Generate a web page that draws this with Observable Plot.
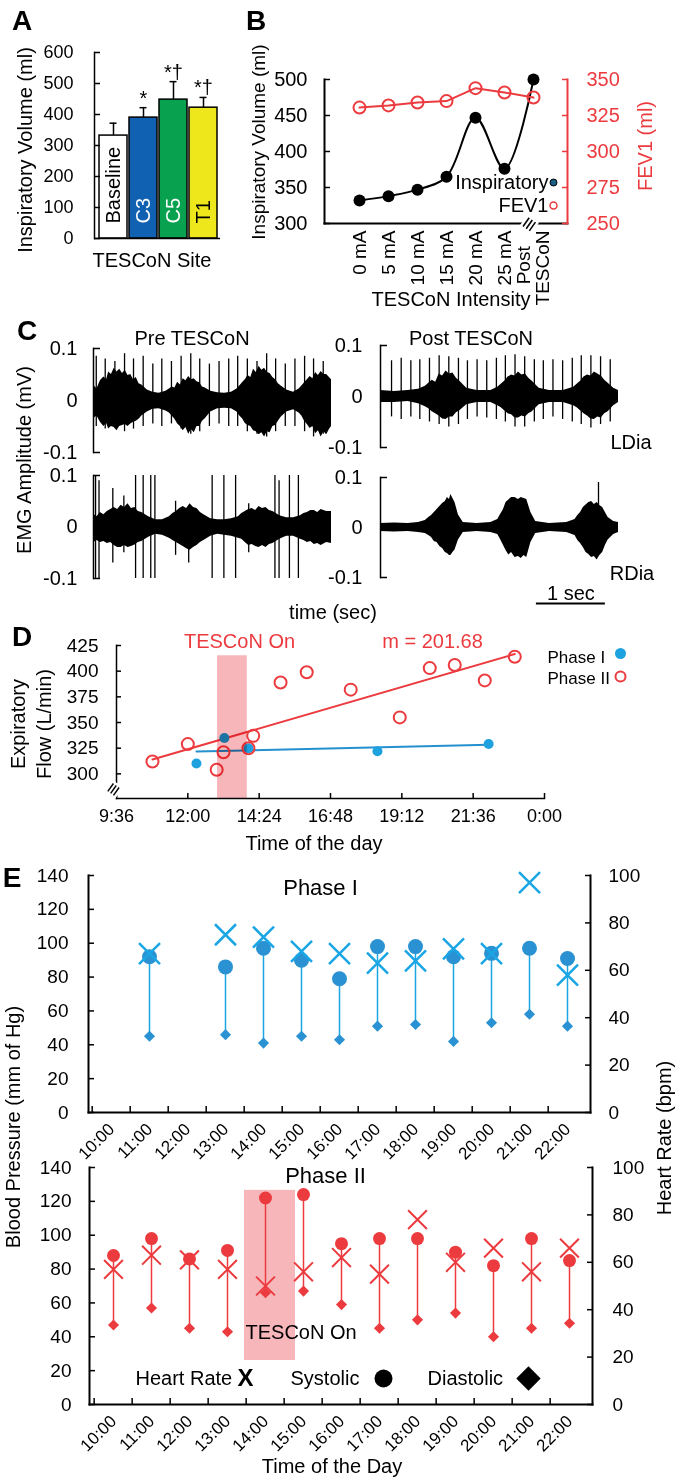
<!DOCTYPE html>
<html><head><meta charset="utf-8">
<script src="https://cdn.jsdelivr.net/npm/d3@7"></script>
<script src="https://cdn.jsdelivr.net/npm/@observablehq/plot@0.6"></script>
<style>
body{margin:0;background:#fff;}
#fig{position:relative;width:678px;height:1479px;overflow:hidden;background:#fff;font-family:"Liberation Sans",Arial,Helvetica,sans-serif;color:#000;}
.lbl{position:absolute;white-space:pre;line-height:1;text-align:center;transform-origin:50% 50%;}
.panel{position:absolute;}
</style></head><body><div id="fig"></div>
<script>
// ---------- Panel A data ----------
const siteCategories = ["Baseline", "C3", "C5", "T1"];
const siteMeans = [332, 390, 448, 422];
const siteErrors = [40, 32, 58, 33];
const siteStars = ["", "*", "*†", "*†"];
const siteFills = ["#ffffff", "#1061b2", "#08a14f", "#eee71b"];
const siteTextColors = ["#000000", "#ffffff", "#ffffff", "#000000"];
const inspTicksA = [0, 100, 200, 300, 400, 500, 600];

// ---------- Panel B data ----------
const intensityLabels = ["0 mA", "5 mA", "10 mA", "15 mA", "20 mA", "25 mA", "Post\nTESCoN"];
const inspiratoryVolume = [332, 338, 347, 365, 447, 376, 500];
const fev1Volume = [330.5, 332, 334, 335, 344, 341, 337.5];
const inspTicksB = [300, 350, 400, 450, 500];
const fevTicks = [250, 275, 300, 325, 350];

// ---------- Panel C data (EMG envelopes and spikes: [time s, high mV, low mV]) ----------
const emgTimeDomain = [0, 3.45];
const emgAmpDomain = [-0.1, 0.1];
const emgTicks = [-0.1, 0, 0.1];
const preLDiaEnvelope = [[0.00,0.03,-0.035],[0.05,0.022,-0.03],[0.1,0.038,-0.042],[0.15,0.045,-0.05],[0.19,0.04,-0.044],[0.22,0.055,-0.055],[0.26,0.05,-0.05],[0.3,0.062,-0.052],[0.34,0.055,-0.058],[0.38,0.06,-0.05],[0.42,0.052,-0.048],[0.46,0.058,-0.046],[0.5,0.048,-0.05],[0.54,0.05,-0.045],[0.58,0.04,-0.042],[0.62,0.044,-0.04],[0.66,0.032,-0.036],[0.7,0.03,-0.03],[0.78,0.02,-0.022],[0.86,0.016,-0.017],[0.95,0.014,-0.016],[1.05,0.018,-0.02],[1.1,0.022,-0.024],[1.14,0.026,-0.03],[1.18,0.024,-0.036],[1.22,0.035,-0.045],[1.26,0.03,-0.05],[1.3,0.042,-0.058],[1.34,0.038,-0.052],[1.38,0.046,-0.065],[1.42,0.04,-0.056],[1.46,0.042,-0.062],[1.5,0.036,-0.05],[1.54,0.034,-0.05],[1.58,0.026,-0.04],[1.62,0.024,-0.035],[1.7,0.018,-0.022],[1.8,0.015,-0.016],[1.9,0.014,-0.015],[2.0,0.016,-0.016],[2.08,0.022,-0.022],[2.12,0.028,-0.03],[2.16,0.034,-0.035],[2.2,0.04,-0.044],[2.24,0.048,-0.048],[2.28,0.044,-0.05],[2.32,0.06,-0.058],[2.36,0.054,-0.06],[2.4,0.066,-0.066],[2.44,0.058,-0.062],[2.48,0.062,-0.07],[2.52,0.054,-0.06],[2.56,0.052,-0.062],[2.6,0.044,-0.05],[2.64,0.04,-0.048],[2.68,0.032,-0.04],[2.72,0.028,-0.032],[2.8,0.02,-0.022],[2.9,0.016,-0.018],[2.98,0.022,-0.024],[3.02,0.028,-0.03],[3.06,0.034,-0.04],[3.1,0.04,-0.046],[3.14,0.046,-0.054],[3.18,0.042,-0.05],[3.22,0.054,-0.064],[3.26,0.048,-0.058],[3.3,0.056,-0.07],[3.34,0.05,-0.06],[3.38,0.05,-0.066],[3.42,0.044,-0.056],[3.45,0.04,-0.05]];
const preLDiaSpikes = [[0.04,0.085,-0.05],[0.17,0.08,-0.055],[0.31,0.075,-0.05],[0.45,0.09,-0.06],[0.58,0.08,-0.055],[0.72,0.085,-0.05],[0.86,0.07,-0.045],[0.99,0.08,-0.05],[1.13,0.075,-0.045],[1.27,0.085,-0.055],[1.41,0.09,-0.065],[1.54,0.08,-0.06],[1.68,0.07,-0.05],[1.82,0.075,-0.045],[1.96,0.08,-0.05],[2.09,0.085,-0.05],[2.23,0.08,-0.06],[2.37,0.075,-0.065],[2.51,0.09,-0.07],[2.64,0.08,-0.06],[2.78,0.07,-0.05],[2.92,0.08,-0.05],[3.06,0.085,-0.06],[3.19,0.08,-0.07],[3.33,0.075,-0.065]];
const postLDiaEnvelope = [[0,0.012,-0.012],[0.2,0.01,-0.012],[0.4,0.012,-0.01],[0.55,0.014,-0.014],[0.65,0.02,-0.02],[0.7,0.026,-0.024],[0.75,0.032,-0.03],[0.8,0.028,-0.034],[0.85,0.044,-0.038],[0.9,0.04,-0.044],[0.95,0.05,-0.045],[1.0,0.044,-0.04],[1.05,0.046,-0.04],[1.1,0.036,-0.032],[1.15,0.03,-0.028],[1.25,0.016,-0.016],[1.4,0.012,-0.012],[1.6,0.012,-0.012],[1.7,0.018,-0.018],[1.75,0.024,-0.022],[1.8,0.03,-0.028],[1.85,0.038,-0.034],[1.9,0.042,-0.036],[1.95,0.04,-0.042],[2.0,0.048,-0.042],[2.05,0.042,-0.038],[2.1,0.044,-0.04],[2.15,0.036,-0.034],[2.2,0.03,-0.03],[2.3,0.016,-0.016],[2.45,0.012,-0.012],[2.65,0.012,-0.012],[2.8,0.018,-0.018],[2.85,0.024,-0.022],[2.9,0.03,-0.028],[2.95,0.038,-0.034],[3.0,0.042,-0.038],[3.05,0.04,-0.044],[3.1,0.048,-0.045],[3.15,0.044,-0.04],[3.2,0.04,-0.042],[3.25,0.032,-0.034],[3.3,0.026,-0.03],[3.38,0.016,-0.018],[3.45,0.012,-0.012]];
const postLDiaSpikes = [[0.16,0.07,-0.04],[0.3,0.075,-0.045],[0.44,0.07,-0.04],[0.57,0.072,-0.045],[0.71,0.075,-0.05],[0.85,0.08,-0.055],[0.99,0.078,-0.06],[1.13,0.075,-0.055],[1.26,0.07,-0.045],[1.4,0.072,-0.04],[1.54,0.07,-0.042],[1.68,0.075,-0.045],[1.81,0.08,-0.05],[1.95,0.082,-0.06],[2.09,0.078,-0.06],[2.23,0.072,-0.05],[2.36,0.07,-0.045],[2.5,0.072,-0.04],[2.64,0.07,-0.045],[2.78,0.075,-0.05],[2.91,0.08,-0.055],[3.05,0.08,-0.062],[3.19,0.078,-0.055],[3.33,0.072,-0.05]];
const preRDiaEnvelope = [[0,0.025,-0.03],[0.05,0.02,-0.026],[0.1,0.028,-0.03],[0.15,0.024,-0.028],[0.2,0.03,-0.032],[0.25,0.034,-0.03],[0.3,0.038,-0.036],[0.35,0.034,-0.04],[0.4,0.042,-0.04],[0.45,0.038,-0.036],[0.5,0.045,-0.04],[0.55,0.036,-0.038],[0.6,0.038,-0.035],[0.65,0.03,-0.03],[0.7,0.028,-0.028],[0.8,0.02,-0.02],[0.9,0.014,-0.014],[1.0,0.014,-0.016],[1.1,0.02,-0.022],[1.15,0.026,-0.026],[1.2,0.03,-0.03],[1.25,0.036,-0.034],[1.3,0.04,-0.038],[1.35,0.036,-0.042],[1.4,0.045,-0.045],[1.45,0.038,-0.04],[1.5,0.036,-0.036],[1.55,0.028,-0.03],[1.6,0.024,-0.026],[1.7,0.016,-0.018],[1.8,0.014,-0.014],[1.9,0.014,-0.016],[2.0,0.016,-0.018],[2.1,0.02,-0.022],[2.15,0.026,-0.024],[2.2,0.03,-0.03],[2.25,0.034,-0.036],[2.3,0.036,-0.034],[2.35,0.032,-0.038],[2.4,0.04,-0.04],[2.45,0.036,-0.036],[2.5,0.038,-0.04],[2.55,0.032,-0.034],[2.6,0.03,-0.032],[2.7,0.022,-0.024],[2.8,0.018,-0.018],[2.9,0.018,-0.018],[3.0,0.022,-0.024],[3.05,0.026,-0.026],[3.1,0.028,-0.03],[3.15,0.032,-0.028],[3.2,0.032,-0.034],[3.25,0.028,-0.032],[3.3,0.034,-0.036],[3.38,0.03,-0.03],[3.45,0.03,-0.032]];
const preRDiaSpikes = [[0.03,0.1,-0.1],[0.08,0.09,-0.1],[0.28,0.075,-0.07],[0.44,0.06,-0.05],[0.61,0.1,-0.1],[0.72,0.1,-0.1],[0.83,0.1,-0.1],[0.89,0.1,-0.1],[1.19,0.05,-0.055],[1.38,0.04,-0.07],[1.72,0.1,-0.1],[1.89,0.1,-0.1],[2.06,0.1,-0.1],[2.25,0.045,-0.05],[2.63,0.1,-0.1],[2.69,0.09,-0.1],[2.84,0.1,-0.1],[2.97,0.1,-0.1]];
const postRDiaEnvelope = [[0,0.008,-0.008],[0.2,0.009,-0.009],[0.4,0.008,-0.008],[0.55,0.01,-0.01],[0.65,0.014,-0.012],[0.7,0.02,-0.016],[0.74,0.024,-0.02],[0.78,0.03,-0.028],[0.82,0.036,-0.03],[0.86,0.042,-0.038],[0.9,0.048,-0.042],[0.94,0.052,-0.05],[0.97,0.06,-0.052],[1.0,0.056,-0.056],[1.02,0.066,-0.056],[1.05,0.058,-0.05],[1.08,0.05,-0.045],[1.13,0.025,-0.025],[1.2,0.01,-0.01],[1.4,0.008,-0.008],[1.6,0.01,-0.01],[1.7,0.016,-0.014],[1.74,0.026,-0.024],[1.78,0.035,-0.035],[1.82,0.05,-0.046],[1.86,0.055,-0.055],[1.9,0.06,-0.05],[1.95,0.06,-0.06],[2.0,0.056,-0.058],[2.04,0.06,-0.062],[2.08,0.058,-0.056],[2.12,0.056,-0.06],[2.18,0.03,-0.03],[2.25,0.012,-0.012],[2.45,0.008,-0.008],[2.7,0.01,-0.01],[2.82,0.016,-0.016],[2.86,0.024,-0.026],[2.9,0.03,-0.032],[2.94,0.04,-0.04],[2.98,0.045,-0.05],[3.02,0.05,-0.054],[3.06,0.052,-0.06],[3.1,0.046,-0.058],[3.14,0.05,-0.065],[3.18,0.044,-0.056],[3.22,0.04,-0.05],[3.26,0.03,-0.036],[3.3,0.02,-0.025],[3.38,0.012,-0.014],[3.45,0.01,-0.01]];
const postRDiaSpikes = [[3.16,0.09,-0.02]];
const scaleBar = {start: 2.26, seconds: 1, y: -0.152, labelY: -0.133};

// ---------- Panel D data ----------
const phase1Hours = [12.29, 13.23, 14.04, 18.38, 22.12];
const phase1Flow = [310, 335, 325, 322, 329];
const phase2Hours = [10.81, 12.0, 12.97, 13.2, 14.04, 14.2, 15.12, 16.0, 17.48, 19.13, 20.14, 20.98, 21.99, 23.0];
const phase2Flow = [312, 329, 304, 321, 325, 337, 389, 399, 382, 355, 403, 406, 391, 414];
const hourDomain = [9.6, 24];
const flowDomain = [276, 425];
const hourTicks = [9.6, 12, 14.4, 16.8, 19.2, 21.6, 24];
const hourTickLabels = ["9:36", "12:00", "14:24", "16:48", "19:12", "21:36", "0:00"];
const flowTicks = [300, 325, 350, 375, 400, 425];
const tesconBandD = {start: 13.0, end: 14.0, top: 415};

// ---------- Panel E data ----------
const timeLabels = ["10:00","11:00","12:00","13:00","14:00","15:00","16:00","17:00","18:00","19:00","20:00","21:00","22:00"];
const phase1Times = ["11:00","13:00","14:00","15:00","16:00","17:00","18:00","19:00","20:00","21:00","22:00"];
const phase1Sys = [92, 86, 97, 90, 79, 98, 98, 92, 94, 97, 91];
const phase1Dia = [45, 46, 41, 45, 43, 51, 52, 42, 53, 58, 51];
const phase1HR = [67, 75, 74, 68, 67, 63, 64, 69, 67, 97, 58];
const phase2Times = timeLabels;
const phase2Sys = [88, 98, 86, 91, 122, 124, 95, 98, 98, 90, 82, 98, 85];
const phase2Dia = [47, 57, 45, 43, 66, 67, 59, 45, 50, 54, 40, 45, 48];
const phase2HR = [57, 63, 61, 57, 50, 56, 62, 55, 78, 60, 66, 56, 66];
const bpTicks = [0, 20, 40, 60, 80, 100, 120, 140];
const hrTicks = [0, 20, 40, 60, 80, 100];
const tesconBandE = {t: "14:00", low: 26, high: 126.5};

// ---------- styling ----------
const red = "#ec3b3f", pink = "#f7b6ba";
const blueDot = "#1da2df", blueLine = "#2590d0";
const e1Dot = "#2a92d2", e1Light = "#1aa6e4";
const FONT = '"Liberation Sans", Arial, Helvetica, sans-serif';
const baseStyle = {background: "transparent", overflow: "visible", fontFamily: FONT, fontSize: "18px", color: "#000"};
const fig = document.getElementById("fig");
const M = {textAnchor: "middle", lineAnchor: "middle"};

function mount(svg, left, top) {
  const d = document.createElement("div");
  d.className = "panel";
  d.style.left = left + "px"; d.style.top = top + "px";
  d.style.width = svg.getAttribute("width") + "px";
  d.appendChild(svg); fig.appendChild(d);
}
function label(text, x, y, {size = 20, rotate = 0, color = "#000", weight = "normal", lineHeight = 1} = {}) {
  const d = document.createElement("div");
  d.className = "lbl"; d.textContent = text;
  d.style.left = x + "px"; d.style.top = y + "px";
  d.style.fontSize = size + "px"; d.style.color = color; d.style.fontWeight = weight;
  d.style.lineHeight = lineHeight;
  d.style.transform = `translate(-50%,-50%) rotate(${rotate}deg)`;
  fig.appendChild(d);
}

// ---------- Panel A ----------
const dataA = siteCategories.map((site, i) => ({site, mean: siteMeans[i], top: siteMeans[i] + siteErrors[i], star: siteStars[i], fillc: siteFills[i], ink: siteTextColors[i]}));
mount(Plot.plot({
  width: 235, height: 280, marginLeft: 94, marginRight: 15, marginTop: 52, marginBottom: 42,
  style: baseStyle,
  x: {type: "band", domain: siteCategories, range: [99, 217], paddingInner: 0.07, paddingOuter: 0, axis: null},
  y: {domain: [0, 600], axis: null},
  color: {type: "identity"},
  marks: [
    Plot.ruleX(dataA, {x: "site", y1: "mean", y2: "top", strokeWidth: 1.5}),
    Plot.tickY(dataA, {x: "site", y: "top", insetLeft: 10.5, insetRight: 10.5, strokeWidth: 1.5}),
    Plot.barY(dataA, {x: "site", y: "mean", fill: "fillc", stroke: "#000", strokeWidth: 1.5}),
    Plot.text(dataA, {x: "site", y: 0, text: "site", rotate: -90, textAnchor: "start", lineAnchor: "middle", dy: -15, fill: "ink", fontSize: 20}),
    Plot.text(dataA, {x: "site", y: "top", text: "star", lineAnchor: "bottom", dy: -3, fontSize: 20}),
    Plot.axisY({ticks: inspTicksA, tickSize: -6, tickPadding: 27, fontSize: 18, strokeWidth: 1.5, label: null, tickFormat: d => String(d)}),
    Plot.frame({anchor: "left", strokeWidth: 1.5}),
    Plot.ruleY([0], {strokeWidth: 1.5})
  ]
}), 0, 0);

// ---------- Panel B ----------
const dataB = intensityLabels.map((k, i) => ({k, insp: inspiratoryVolume[i], fev: fev1Volume[i]}));
const geoB = {width: 448, height: 310, marginLeft: 94, marginRight: 111, marginTop: 79, marginBottom: 87};
const xB = {type: "point", domain: intensityLabels, range: [111, 320], axis: null};
mount(Plot.plot({
  ...geoB, style: baseStyle, x: xB, y: {domain: [300, 500], axis: null},
  marks: [
    Plot.frame({anchor: "left", strokeWidth: 2}),
    Plot.frame({anchor: "bottom", strokeWidth: 2}),
    Plot.lineY(dataB, {x: "k", y: "insp", curve: "catmull-rom", strokeWidth: 2}),
    Plot.dot(dataB, {x: "k", y: "insp", r: 6, fill: "#000"}),
    Plot.axisY({ticks: inspTicksB, tickSize: -6, tickPadding: 23, fontSize: 20, strokeWidth: 1.5, label: null, tickFormat: d => String(d)}),
    Plot.axisX({tickSize: 0, tickRotate: -90, tickPadding: 7, fontSize: 19, label: null,
      tickFormat: d => d.includes("\n") ? d.replace("\n", "\u00a0\u00a0\u00a0\n") : d}),
    Plot.text(["≡"], {frameAnchor: "bottom-right", dx: -38, dy: 1, rotate: -55, fontSize: 22, fontWeight: "bold", stroke: "white", strokeWidth: 5, fill: "#000", ...M}),
    Plot.text(["Inspiratory"], {frameAnchor: "bottom-right", dx: -19, dy: -41, textAnchor: "end", lineAnchor: "middle", fontSize: 20}),
    Plot.dot([0], {frameAnchor: "bottom-right", dx: -14, dy: -41, r: 3.5, fill: "#1b5e84", stroke: "#000", strokeWidth: 1}),
    Plot.text(["FEV1"], {frameAnchor: "bottom-right", dx: -19, dy: -18, textAnchor: "end", lineAnchor: "middle", fontSize: 20})
  ]
}), 230, 0);
mount(Plot.plot({
  ...geoB, style: baseStyle, x: xB, y: {domain: [250, 350], axis: null},
  marks: [
    Plot.frame({anchor: "right", stroke: red, strokeWidth: 2}),
    Plot.lineY(dataB, {x: "k", y: "fev", stroke: red, strokeWidth: 2}),
    Plot.dot(dataB, {x: "k", y: "fev", r: 6, fill: "none", stroke: red, strokeWidth: 2}),
    Plot.dot([0], {frameAnchor: "bottom-right", dx: -14, dy: -18, r: 3.5, fill: "white", stroke: red, strokeWidth: 1.5}),
    Plot.axisY({anchor: "right", ticks: fevTicks, tickSize: -6, tickPadding: 25, fontSize: 20, stroke: red, fill: red, strokeWidth: 1.5, label: null, tickFormat: d => String(d)})
  ]
}), 230, 0);

// ---------- Panel C ----------
function emg(env, spikes, geo, left, top, extra = []) {
  const envData = env.map(([t, hi, lo]) => ({t, hi, lo}));
  const spk = spikes.map(([t, hi, lo]) => ({t, hi, lo}));
  mount(Plot.plot({
    ...geo, style: baseStyle,
    x: {domain: emgTimeDomain, axis: null}, y: {domain: emgAmpDomain, axis: null},
    marks: [
      Plot.areaY(envData, {x: "t", y1: "lo", y2: "hi", fill: "#000"}),
      Plot.ruleX(spk, {x: "t", y1: "lo", y2: "hi", strokeWidth: 1.3}),
      Plot.frame({anchor: "left", strokeWidth: 1.5}),
      Plot.axisY({ticks: emgTicks, tickSize: -7, tickPadding: geo.pad, fontSize: 20, strokeWidth: 1.5, label: null, tickFormat: d => String(d)}),
      ...extra
    ]
  }), left, top);
}
emg(preLDiaEnvelope, preLDiaSpikes, {width: 340, height: 125, marginLeft: 93, marginRight: 9, marginTop: 13, marginBottom: 8, pad: 23}, 0, 335);
emg(postLDiaEnvelope, postLDiaSpikes, {width: 340, height: 123, marginLeft: 80, marginRight: 22, marginTop: 13, marginBottom: 8, pad: 25}, 300, 332);
emg(preRDiaEnvelope, preRDiaSpikes, {width: 340, height: 124, marginLeft: 93, marginRight: 9, marginTop: 13, marginBottom: 8, pad: 23}, 0, 462);
emg(postRDiaEnvelope, postRDiaSpikes, {width: 340, height: 148, marginLeft: 80, marginRight: 22, marginTop: 13, marginBottom: 35, pad: 25}, 300, 464, [
  Plot.ruleY([scaleBar], {y: "y", x1: "start", x2: d => d.start + d.seconds, strokeWidth: 2}),
  Plot.text([scaleBar], {x: d => d.start + d.seconds / 2, y: "labelY", text: () => "1 sec", fontSize: 20, ...M})
]);

// ---------- Panel D ----------
const p1 = phase1Hours.map((h, i) => ({h, v: phase1Flow[i]}));
const p2 = phase2Hours.map((h, i) => ({h, v: phase2Flow[i]}));
mount(Plot.plot({
  width: 678, height: 240, marginLeft: 116, marginRight: 134, marginTop: 25, marginBottom: 62, style: baseStyle,
  x: {domain: hourDomain, axis: null}, y: {domain: flowDomain, axis: null},
  marks: [
    Plot.linearRegressionY(p1, {x: "h", y: "v", stroke: blueLine, strokeWidth: 2, ci: 0}),
    Plot.linearRegressionY(p2, {x: "h", y: "v", stroke: red, strokeWidth: 2, ci: 0}),
    Plot.dot(p1, {x: "h", y: "v", r: 5, fill: blueDot}),
    Plot.dot(p2, {x: "h", y: "v", r: 6, fill: "none", stroke: red, strokeWidth: 2}),
    Plot.rect([tesconBandD], {x1: "start", x2: "end", y1: () => flowDomain[0], y2: "top", fill: pink, mixBlendMode: "multiply"}),
    Plot.frame({anchor: "left", strokeWidth: 1.5}),
    Plot.frame({anchor: "bottom", strokeWidth: 1.5}),
    Plot.axisY({ticks: flowTicks, tickSize: -5, tickPadding: 23, fontSize: 19, strokeWidth: 1.5, label: null, tickFormat: d => String(d)}),
    Plot.axisX({ticks: hourTicks, tickSize: -5, tickPadding: 16, fontSize: 18, strokeWidth: 1.5, label: null, tickFormat: d => hourTickLabels[hourTicks.indexOf(d)]}),
    Plot.text(["≡"], {frameAnchor: "bottom-left", dx: -3, dy: -9, rotate: -55, fontSize: 20, fontWeight: "bold", stroke: "white", strokeWidth: 5, fill: "#000", ...M}),
    Plot.text(["TESCoN On"], {frameAnchor: "top-left", dx: 123, dy: -4, fill: red, fontSize: 20, ...M}),
    Plot.text(["m = 201.68"], {frameAnchor: "top-left", dx: 316, dy: -4, fill: red, fontSize: 20, ...M}),
    Plot.text(["Phase I"], {frameAnchor: "top-right", dx: 3, dy: 12, textAnchor: "start", lineAnchor: "middle", fontSize: 17}),
    Plot.dot([0], {frameAnchor: "top-right", dx: 76, dy: 8, r: 5.5, fill: blueDot}),
    Plot.text(["Phase II"], {frameAnchor: "top-right", dx: 3, dy: 33, textAnchor: "start", lineAnchor: "middle", fontSize: 17}),
    Plot.dot([0], {frameAnchor: "top-right", dx: 76, dy: 31, r: 5, fill: "none", stroke: red, strokeWidth: 2})
  ]
}), 0, 620);

// ---------- Panel E, Phase I ----------
const e1 = phase1Times.map((t, i) => ({t, sys: phase1Sys[i], dia: phase1Dia[i], hr: phase1HR[i]}));
const geoE1 = {width: 678, height: 300, marginLeft: 88, marginRight: 88, marginTop: 15, marginBottom: 48};
const bw1 = (678 - 88 - 88) / timeLabels.length;
const xE = {type: "band", domain: timeLabels, padding: 0, axis: null};
mount(Plot.plot({
  ...geoE1, style: baseStyle, x: xE, y: {domain: [0, 140], axis: null},
  marks: [
    Plot.ruleX(e1, {x: "t", y1: "dia", y2: "sys", stroke: e1Light, strokeWidth: 1.5}),
    Plot.dot(e1, {x: "t", y: "dia", symbol: "diamond2", r: 5, fill: e1Dot}),
    Plot.dot(e1, {x: "t", y: "sys", r: 7.5, fill: e1Dot}),
    Plot.frame({anchor: "left", strokeWidth: 2}),
    Plot.frame({anchor: "bottom", strokeWidth: 2}),
    Plot.axisY({ticks: bpTicks, tickSize: -6, tickPadding: 26, fontSize: 19, strokeWidth: 1.5, label: null, tickFormat: d => String(d)}),
    Plot.axisX({fill: "none", tickSize: -6, dx: -bw1 / 2, strokeWidth: 1.5, label: null}),
    Plot.axisX({tickSize: 0, tickRotate: -45, tickPadding: 14, fontSize: 17, label: null}),
    Plot.text(["Phase I"], {frameAnchor: "top", dx: -19, dy: 12, fontSize: 22, ...M})
  ]
}), 0, 860);
mount(Plot.plot({
  ...geoE1, style: baseStyle, x: xE, y: {domain: [0, 100], axis: null},
  marks: [
    Plot.frame({anchor: "right", strokeWidth: 2}),
    Plot.dot(e1, {x: "t", y: "hr", symbol: "times", r: 9.6, stroke: e1Light, strokeWidth: 2.5}),
    Plot.axisY({anchor: "right", ticks: hrTicks, tickSize: -6, tickPadding: 24, fontSize: 19, strokeWidth: 1.5, label: null, tickFormat: d => String(d)})
  ]
}), 0, 860);

// ---------- Panel E, Phase II ----------
const e2 = phase2Times.map((t, i) => ({t, sys: phase2Sys[i], dia: phase2Dia[i], hr: phase2HR[i]}));
const geoE2 = {width: 678, height: 329, marginLeft: 89, marginRight: 86, marginTop: 17, marginBottom: 75};
const bw2 = (678 - 89 - 86) / timeLabels.length;
mount(Plot.plot({
  ...geoE2, style: baseStyle, x: xE, y: {domain: [0, 140], axis: null},
  marks: [
    Plot.barY([tesconBandE], {x: "t", y1: "low", y2: "high", fill: pink, insetLeft: -2, insetRight: -11}),
    Plot.ruleX(e2, {x: "t", y1: "dia", y2: "sys", stroke: red, strokeWidth: 1.5}),
    Plot.dot(e2, {x: "t", y: "dia", symbol: "diamond2", r: 5, fill: red}),
    Plot.dot(e2, {x: "t", y: "sys", r: 6.5, fill: red}),
    Plot.frame({anchor: "left", strokeWidth: 2}),
    Plot.frame({anchor: "bottom", strokeWidth: 2}),
    Plot.axisY({ticks: bpTicks, tickSize: -6, tickPadding: 24, fontSize: 19, strokeWidth: 1.5, label: null, tickFormat: d => String(d)}),
    Plot.axisX({fill: "none", tickSize: -6, dx: -bw2 / 2, strokeWidth: 1.5, label: null}),
    Plot.axisX({tickSize: 0, tickRotate: -45, tickPadding: 14, fontSize: 17, label: null}),
    Plot.text(["Phase II"], {frameAnchor: "top", dx: -15.5, dy: 8, fontSize: 22, ...M}),
    Plot.text(["TESCoN On"], {frameAnchor: "bottom-left", dx: 156, dy: -72, textAnchor: "start", lineAnchor: "middle", fontSize: 20}),
    Plot.text(["Heart Rate"], {frameAnchor: "bottom-left", dx: 46, dy: -26, textAnchor: "start", lineAnchor: "middle", fontSize: 20}),
    Plot.text(["X"], {frameAnchor: "bottom-left", dx: 156, dy: -26, fontSize: 24, fontWeight: "bold", ...M}),
    Plot.text(["Systolic"], {frameAnchor: "bottom-left", dx: 201, dy: -26, textAnchor: "start", lineAnchor: "middle", fontSize: 20}),
    Plot.dot([0], {frameAnchor: "bottom-left", dx: 294, dy: -26, r: 9, fill: "#000"}),
    Plot.text(["Diastolic"], {frameAnchor: "bottom-left", dx: 338, dy: -26, textAnchor: "start", lineAnchor: "middle", fontSize: 20}),
    Plot.dot([0], {frameAnchor: "bottom-left", dx: 439, dy: -26, symbol: "diamond2", r: 11, fill: "#000"})
  ]
}), 0, 1150);
mount(Plot.plot({
  ...geoE2, style: baseStyle, x: xE, y: {domain: [0, 100], axis: null},
  marks: [
    Plot.frame({anchor: "right", strokeWidth: 2}),
    Plot.dot(e2, {x: "t", y: "hr", symbol: "times", r: 8.6, stroke: red, strokeWidth: 2}),
    Plot.axisY({anchor: "right", ticks: hrTicks, tickSize: -6, tickPadding: 26, fontSize: 19, strokeWidth: 1.5, label: null, tickFormat: d => String(d)})
  ]
}), 0, 1150);

// ---------- free text labels ----------
label("A", 22, 21, {size: 28, weight: "bold"});
label("B", 256, 21, {size: 28, weight: "bold"});
label("C", 27, 331, {size: 28, weight: "bold"});
label("D", 22, 637, {size: 28, weight: "bold"});
label("E", 12, 878, {size: 28, weight: "bold"});
label("Inspiratory Volume (ml)", 25, 150, {rotate: -90});
label("TESCoN Site", 152, 260);
label("Inspiratory Volume (ml)", 258, 142, {rotate: -90, size: 19});
label("FEV1 (ml)", 645, 146, {rotate: -90, color: red});
label("TESCoN Intensity", 451, 299);
label("Pre TESCoN", 192, 338);
label("Post TESCoN", 471, 338);
label("LDia", 631, 442);
label("RDia", 632, 573);
label("time (sec)", 333, 612);
label("EMG Amplitude (mV)", 24, 460, {rotate: -90});
label("Expiratory\nFlow (L/min)", 31, 724, {rotate: -90, lineHeight: 1.3});
label("Time of the day", 314, 843);
label("Blood Pressure (mm of Hg)", 13, 1127, {rotate: -90});
label("Heart Rate (bpm)", 664, 1138, {rotate: -90});
label("Time of the Day", 332, 1466);
</script>
</body></html>
